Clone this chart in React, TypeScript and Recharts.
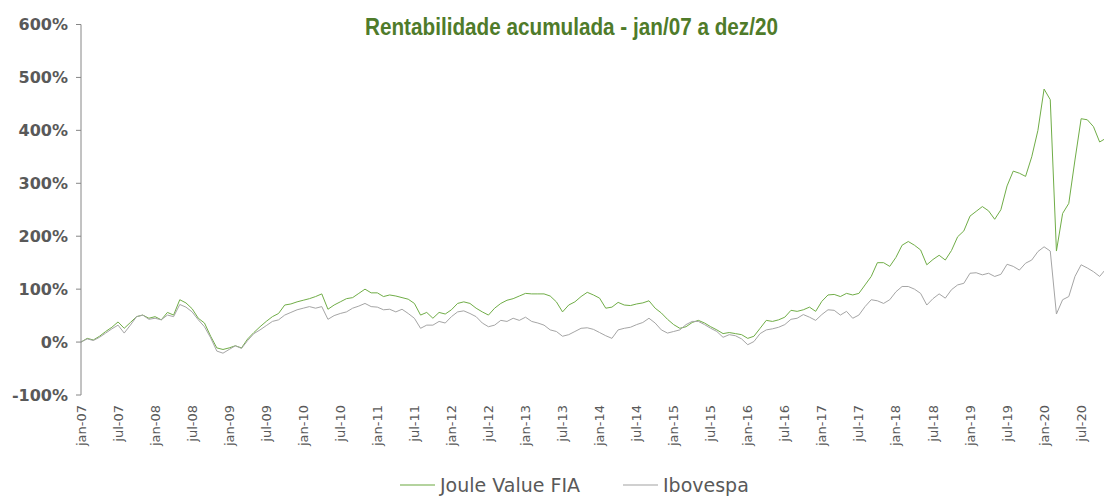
import { LineChart, Line, XAxis, YAxis, Legend } from 'recharts'

const monthNames = ['jan', 'fev', 'mar', 'abr', 'mai', 'jun', 'jul', 'ago', 'set', 'out', 'nov', 'dez']
const years = ['07', '08', '09', '10', '11', '12', '13', '14', '15', '16', '17', '18', '19', '20']

// rentabilidade acumulada (%), fechamento mensal aproximado, jan/07 -> dez/20
const joule = [
  0, 7, 4, 11, 20, 28, 38, 26, 37, 48, 51, 45,
  48, 42, 56, 51, 80, 74, 63, 45, 36, 11, -11, -14,
  -11, -7, -11, 6, 18, 29, 39, 48, 54, 70, 72, 76,
  79, 82, 86, 91, 62, 70, 76, 82, 84, 92, 100, 93,
  93, 86, 89, 87, 84, 81, 73, 51, 56, 45, 56, 53,
  61, 73, 76, 73, 64, 57, 51, 64, 73, 79, 82, 87,
  92, 91, 91, 91, 87, 76, 57, 70, 76, 86, 94, 89,
  83, 64, 66, 75, 70, 69, 72, 74, 78, 64, 55, 43,
  33, 26, 29, 37, 41, 36, 29, 23, 16, 18, 16, 14,
  7, 11, 26, 41, 39, 42, 47, 60, 58, 61, 66, 58,
  77, 89, 90, 86, 92, 89, 92, 108, 124, 150, 150, 143,
  160, 183, 190, 183, 174, 146, 156, 164, 155, 173, 199, 210,
  238, 247, 256, 248, 232, 250, 295, 323, 319, 313, 350, 400,
  478, 458, 172, 243, 262, 344, 422, 420, 407, 378, 385, 400,
]

const ibov = [
  0, 6, 3, 9, 17, 25, 32, 17, 32, 48, 51, 43,
  45, 42, 51, 48, 71, 66, 57, 42, 29, 8, -17, -21,
  -14, -7, -12, 3, 16, 23, 31, 39, 42, 51, 56, 61,
  64, 67, 64, 67, 43, 50, 54, 57, 64, 68, 73, 67,
  66, 61, 62, 57, 62, 54, 45, 26, 32, 32, 39, 36,
  48, 57, 59, 54, 48, 36, 29, 32, 41, 39, 45, 41,
  47, 39, 36, 32, 23, 20, 11, 14, 20, 26, 27, 24,
  18, 12, 7, 23, 26, 28, 33, 37, 45, 36, 23, 17,
  20, 23, 33, 39, 39, 33, 26, 20, 9, 14, 12, 6,
  -5, 1, 16, 23, 25, 28, 33, 43, 45, 52, 47, 41,
  52, 61, 60, 51, 58, 45, 51, 67, 80, 78, 73, 80,
  95, 105, 105, 100, 92, 70, 82, 91, 83, 99, 108, 111,
  130, 131, 127, 130, 124, 128, 147, 143, 136, 149, 155, 171,
  180, 172, 53, 80, 86, 124, 146, 140, 133, 124, 138, 150,
]

const yTicks = [-100, 0, 100, 200, 300, 400, 500, 600]
const seriesNames = ['Joule Value FIA', 'Ibovespa']

const labels: string[] = []
years.forEach((y) => monthNames.forEach((m) => labels.push(`${m}-${y}`)))

const data = labels.map((label, i) => ({ label, joule: joule[i], ibov: ibov[i] }))

const GREEN = '#70AD47'
const GRAY = '#A5A5A5'
const TEXT = '#595959'
const seriesColors = [GREEN, GRAY]

function XTick(props: any) {
  const { x, y, payload } = props
  const ty = y + 10
  return (
    <text
      x={x}
      y={ty}
      transform={`rotate(-90, ${x}, ${ty})`}
      textAnchor="end"
      dy="0.35em"
      fill={TEXT}
      fontSize={13}
      fontFamily="'DejaVu Sans', Verdana, sans-serif"
    >
      {payload.value}
    </text>
  )
}

const legendLeft = [400, 623]

function LegendContent() {
  return (
    <div style={{ position: 'relative', height: 24 }}>
      {seriesNames.map((name, i) => (
        <div
          key={name}
          style={{
            position: 'absolute',
            left: legendLeft[i],
            top: 0,
            height: 24,
            display: 'flex',
            alignItems: 'center',
            whiteSpace: 'nowrap',
          }}
        >
          <svg width={35} height={24} style={{ display: 'block' }}>
            <line x1={0} x2={35} y1={12} y2={12} stroke={seriesColors[i]} strokeWidth={1.5} strokeOpacity={0.7} />
          </svg>
          <span
            style={{
              marginLeft: 5,
              fontFamily: "'DejaVu Sans', Verdana, sans-serif",
              fontSize: 19,
              lineHeight: '24px',
              color: TEXT,
            }}
          >
            {name}
          </span>
        </div>
      ))}
    </div>
  )
}

export default function App() {
  return (
    <div
      style={{
        position: 'absolute',
        left: 0,
        top: 0,
        width: 1104,
        height: 497,
        overflow: 'hidden',
        background: '#fff',
      }}
    >
      <LineChart
        width={1112}
        height={497}
        data={data}
        margin={{ top: 24.5, right: 0, bottom: 0, left: 0 }}
      >
        <XAxis
          dataKey="label"
          interval={5}
          axisLine={false}
          tickLine={false}
          tickSize={0}
          tickMargin={0}
          height={102}
          tick={<XTick />}
        />
        <YAxis
          domain={[-100, 600]}
          ticks={yTicks}
          width={81}
          stroke="#868686"
          tickSize={5}
          tickMargin={8}
          tickFormatter={(v: number) => `${v}%`}
          tick={{
            fill: TEXT,
            fontSize: 16,
            fontWeight: 'bold',
            fontFamily: "'DejaVu Sans', Verdana, sans-serif",
          }}
        />
        <Legend
          layout="horizontal"
          verticalAlign="middle"
          align="center"
          wrapperStyle={{ top: 473, left: 0, width: 1104, height: 24 }}
          content={<LegendContent />}
        />
        <Line
          type="linear"
          dataKey="joule"
          name={seriesNames[0]}
          stroke={GREEN}
          strokeWidth={1}
          dot={false}
          isAnimationActive={false}
        />
        <Line
          type="linear"
          dataKey="ibov"
          name={seriesNames[1]}
          stroke={GRAY}
          strokeWidth={1}
          dot={false}
          isAnimationActive={false}
        />
      </LineChart>
      <div
        style={{
          position: 'absolute',
          left: 365,
          top: 15,
          whiteSpace: 'nowrap',
          transform: 'scaleX(0.9)',
          transformOrigin: '0 0',
          fontFamily: "'Liberation Sans', Arial, sans-serif",
          fontWeight: 'bold',
          fontSize: 23,
          lineHeight: '24px',
          color: '#4F7B2A',
        }}
      >
        Rentabilidade acumulada - jan/07 a dez/20
      </div>
    </div>
  )
}
